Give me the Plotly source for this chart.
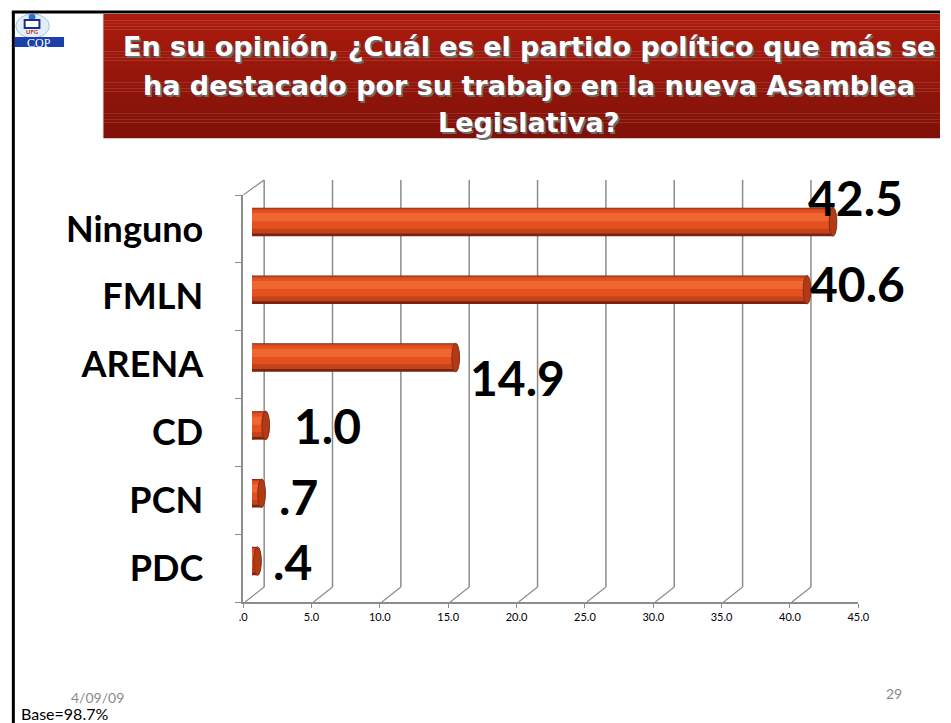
import plotly.graph_objects as go

# ---------------- data ----------------
categories = ["Ninguno", "FMLN", "ARENA", "CD", "PCN", "PDC"]
values = [42.5, 40.6, 14.9, 1.0, 0.7, 0.4]
tick_values = [0, 5, 10, 15, 20, 25, 30, 35, 40, 45]
tick_labels = [".0", "5.0", "10.0", "15.0", "20.0", "25.0", "30.0", "35.0", "40.0", "45.0"]
title_lines = [
    "En su opinión, ¿Cuál es el partido político que más se",
    "ha destacado por su trabajo en la nueva Asamblea",
    "Legislativa?",
]
date_text = "4/09/09"
base_text = "Base=98.7%"
page_number = "29"

# ---------------- styling ----------------
W, H = 951, 723
FONT = "Lato"
GRID = "#8c8c8c"


def px(x):
    return x / W


def py(y):
    return 1 - y / H


def fmt(v):
    s = f"{v:.1f}"
    return s[1:] if s.startswith("0") else s


order = categories[::-1]  # bottom to top

# label offsets (pixels) relative to bar end, per category (styling)
label_shift = {"Ninguno": (-27, 24), "FMLN": (1, 6), "ARENA": (12, -20),
               "CD": (26, 0), "PCN": (15, -3), "PDC": (14, 0)}

# cylinder shading layers: (thickness, centre offset, colour)
layers = [(0.42, 0.0, "#7a2410"), (0.37, 0.015, "#c2421a"),
          (0.28, 0.04, "#e2511f"), (0.12, 0.07, "#ef6630")]

fig = go.Figure()

# invisible trace carrying the front category axis
fig.add_trace(go.Scatter(x=values, y=categories, xaxis="x", yaxis="y", mode="markers",
                         marker=dict(opacity=0), hoverinfo="skip", showlegend=False))

for th, off, col in layers:
    fig.add_trace(go.Bar(
        x=values, y=categories, orientation="h", xaxis="x3", yaxis="y3",
        width=th, offset=off - th / 2, marker=dict(color=col, line=dict(width=0)),
        showlegend=False, hoverinfo="skip"))

shapes = []
# frame
shapes.append(dict(type="line", xref="paper", yref="paper", x0=px(8), x1=1, y0=py(12), y1=py(12),
                   line=dict(color="black", width=3)))
shapes.append(dict(type="line", xref="paper", yref="paper", x0=px(9.5), x1=px(9.5), y0=py(12), y1=0,
                   line=dict(color="black", width=3)))

# title gradient box
n = 40
top_c, bot_c = (172, 28, 14), (128, 17, 8)
y_top, y_bot = 14, 138
for i in range(n):
    t = i / (n - 1)
    c = tuple(int(top_c[k] + (bot_c[k] - top_c[k]) * t) for k in range(3))
    ya = y_top + (y_bot - y_top) * i / n
    yb = y_top + (y_bot - y_top) * (i + 1) / n
    shapes.append(dict(type="rect", xref="paper", yref="paper", x0=px(101), x1=1,
                       y0=py(yb) - 0.0005, y1=py(ya), line=dict(width=0),
                       fillcolor="rgb(%d,%d,%d)" % c, layer="below"))
shapes.append(dict(type="line", xref="paper", yref="paper", x0=px(101), x1=px(101), y0=py(138), y1=py(14),
                   line=dict(color="#c9716a", width=1), layer="below"))

# logo (simplified)
shapes.append(dict(type="circle", xref="paper", yref="paper", x0=px(12), x1=px(46), y0=py(38), y1=py(14),
                   line=dict(color="#9fc3e0", width=1), fillcolor="rgba(205,228,246,0.6)", layer="below"))
shapes.append(dict(type="circle", xref="paper", yref="paper", x0=px(25), x1=px(32), y0=py(20), y1=py(14),
                   line=dict(width=0), fillcolor="#2a6fd0"))
shapes.append(dict(type="rect", xref="paper", yref="paper", x0=px(21), x1=px(36), y0=py(28), y1=py(20),
                   line=dict(color="#1a2e8a", width=2), fillcolor="white"))
shapes.append(dict(type="rect", xref="paper", yref="paper", x0=px(11), x1=px(61), y0=py(47), y1=py(37),
                   line=dict(width=0), fillcolor="#1c3fae"))

# back wall gridlines + floor connectors
for t in tick_values:
    col = "#d8d8d8" if t == tick_values[-1] else GRID
    shapes.append(dict(type="line", xref="x", yref="paper", xsizemode="pixel", xanchor=t,
                       x0=21, x1=21, y0=py(587), y1=py(180), line=dict(color=col, width=1.5),
                       layer="below"))
    shapes.append(dict(type="line", xref="x", yref="paper", xsizemode="pixel", xanchor=t,
                       ysizemode="pixel", yanchor=py(602), x0=2, x1=21, y0=0, y1=15,
                       line=dict(color=col, width=1.2), layer="below"))
# top-left wall connector
shapes.append(dict(type="line", xref="x", yref="paper", xsizemode="pixel", xanchor=0,
                   ysizemode="pixel", yanchor=py(195), x0=0, x1=21, y0=0, y1=15,
                   line=dict(color=GRID, width=1.2), layer="below"))

# cylinder end caps
capw, caph = 0.28, 0.21
for c, v in zip(categories, values):
    idx = order.index(c)
    shapes.append(dict(type="circle", xref="x3", yref="y3", x0=-capw, x1=capw,
                       y0=idx - caph, y1=idx + caph, fillcolor="#d24a1c",
                       line=dict(width=0), layer="below"))
    shapes.append(dict(type="circle", xref="x3", yref="y3", x0=v - capw, x1=v + capw,
                       y0=idx - caph, y1=idx + caph, fillcolor="#b23a16",
                       line=dict(color="#8a2a10", width=1)))

annotations = []
for i, line in enumerate(title_lines):
    annotations.append(dict(text="<b>" + line + "</b>", xref="paper", yref="paper",
                            x=px(533), y=py([46, 85, 122][i]), showarrow=False,
                            xanchor="center", yanchor="middle",
                            font=dict(family="DejaVu Sans", size=27, color="white",
                                      shadow="2px 2px 0px #6b6b6b")))
for c, v in zip(categories, values):
    dx, dy = label_shift[c]
    annotations.append(dict(text="<b>" + fmt(v) + "</b>", xref="x3", yref="y3", x=v, y=order.index(c),
                            xanchor="left", yanchor="middle", showarrow=False, xshift=dx, yshift=dy,
                            font=dict(family=FONT, size=48, color="black")))
annotations.append(dict(text="COP", xref="paper", yref="paper", x=px(36), y=py(42.5), showarrow=False,
                        xanchor="center", yanchor="middle",
                        font=dict(family="Liberation Serif", size=12, color="white")))
annotations.append(dict(text="<b>UFG</b>", xref="paper", yref="paper", x=px(28.5), y=py(32), showarrow=False,
                        xanchor="center", yanchor="middle",
                        font=dict(family=FONT, size=6, color="#c0282d")))
annotations.append(dict(text=date_text, xref="paper", yref="paper", x=px(95), y=py(697), showarrow=False,
                        xanchor="center", yanchor="middle",
                        font=dict(family=FONT, size=14, color="#8a8a8a")))
annotations.append(dict(text=base_text, xref="paper", yref="paper", x=px(15), y=py(713), showarrow=False,
                        xanchor="left", yanchor="middle",
                        font=dict(family=FONT, size=16, color="black")))
annotations.append(dict(text=page_number, xref="paper", yref="paper", x=px(904), y=py(693), showarrow=False,
                        xanchor="center", yanchor="middle",
                        font=dict(family=FONT, size=14, color="#8a8a8a")))

fig.update_layout(
    width=W, height=H, margin=dict(l=0, r=0, t=0, b=0),
    paper_bgcolor="white", plot_bgcolor="rgba(0,0,0,0)",
    barmode="overlay", showlegend=False,
    shapes=shapes, annotations=annotations,
    xaxis=dict(domain=[px(243), px(868)], range=[0, 45], anchor="y",
               tickvals=tick_values, ticktext=tick_labels, showgrid=False, zeroline=False,
               showline=True, linecolor=GRID, linewidth=1.5, ticks="outside", ticklen=4,
               tickcolor=GRID, tickfont=dict(family=FONT, size=11, color="black")),
    yaxis=dict(domain=[py(602), py(195)], type="category", categoryorder="array",
               categoryarray=order, range=[-0.5, len(order) - 0.5], anchor="x",
               showgrid=False, zeroline=False, showline=True, linecolor=GRID, linewidth=1.5,
               ticks="outside", tickson="boundaries", ticklen=6, tickcolor=GRID,
               ticklabelstandoff=31,
               tickfont=dict(family=FONT, size=36, color="black", weight="bold")),
    xaxis3=dict(domain=[px(252), px(877)], range=[0, 45], anchor="y3", visible=False),
    yaxis3=dict(domain=[py(595), py(188)], type="category", categoryorder="array",
                categoryarray=order, range=[-0.5, len(order) - 0.5], anchor="x3", visible=False),
)

fig.write_html("out.html", config={"displayModeBar": False},
               post_script="document.body.style.margin='0';document.body.style.overflow='hidden';")
